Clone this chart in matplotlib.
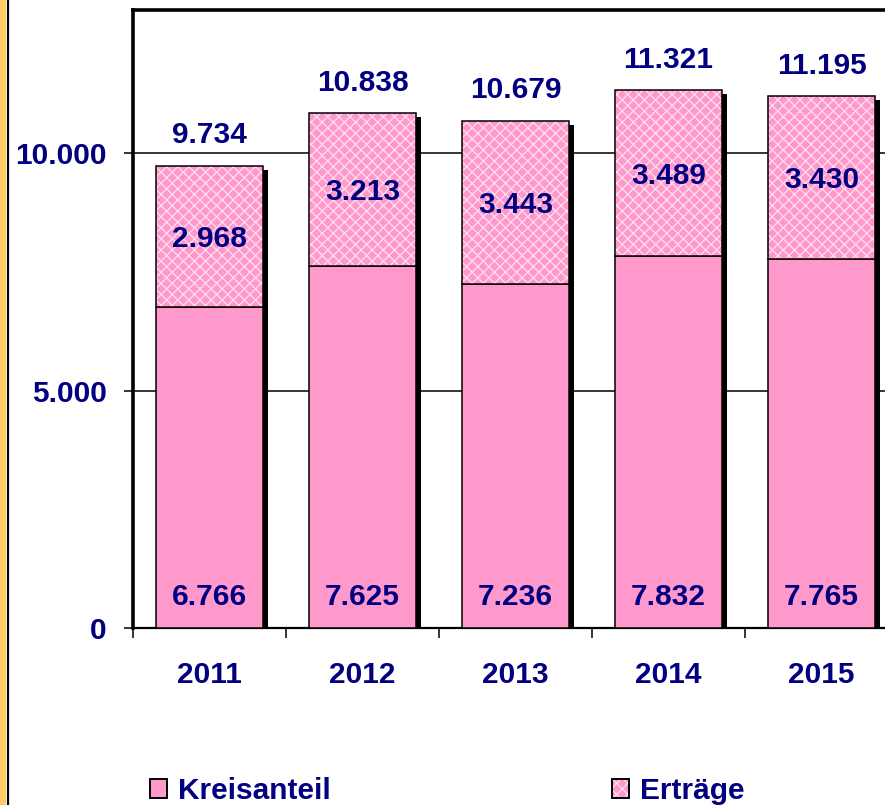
import matplotlib
matplotlib.use("Agg")
import matplotlib.pyplot as plt
import matplotlib.patheffects as pe
from matplotlib.patches import Rectangle, Patch
from matplotlib.lines import Line2D
from matplotlib.legend_handler import HandlerTuple
import numpy as np

years = ["2011", "2012", "2013", "2014", "2015"]
kreisanteil = [6766, 7625, 7236, 7832, 7765]
ertraege = [2968, 3213, 3443, 3489, 3430]
yticks = [0, 5000, 10000]
series_names = ["Kreisanteil", "Erträge"]

NAVY = "#000080"
PINK = "#FF99CC"
HATCH_C = "#FFE0F0"
FS = 21.5

def fmt(v):
    return f"{v:,}".replace(",", ".")

plt.rcParams["font.family"] = ["Liberation Sans", "DejaVu Sans"]
plt.rcParams["font.weight"] = "bold"
plt.rcParams["hatch.linewidth"] = 0.9

W, H = 885, 805
fig = plt.figure(figsize=(W / 100, H / 100), dpi=100)
fig.patch.set_facecolor("white")

# left orange strip
fig.add_artist(Rectangle((0, 0), 6 / W, 1, transform=fig.transFigure, facecolor="#FFCC66", edgecolor="none"))
fig.add_artist(Line2D([7.5 / W, 7.5 / W], [0, 1], transform=fig.transFigure, color="black", lw=1.6))

ax = fig.add_axes([133 / W, (H - 628) / H, 765 / W, 617.5 / H])
ax.set_xlim(-0.5, 4.5)
ax.set_ylim(0, 13000)

x = np.arange(len(years))
kre = np.array(kreisanteil)
ert = np.array(ertraege)
tot = kre + ert
bw = 0.70

# grid
for yv in yticks[1:]:
    ax.axhline(yv, color="black", lw=1.1, zorder=1)

# shadows for the whole stack
sh = ax.bar(x, tot, bw, color="black", zorder=2)
for p in sh:
    p.set_path_effects([pe.SimplePatchShadow(offset=(3.6, -3.0), shadow_rgbFace="black", alpha=1.0)])

ax.bar(x, kre, bw, color=PINK, edgecolor="black", lw=1.1, zorder=3)
ax.bar(x, ert, bw, bottom=kre, color=PINK, edgecolor=HATCH_C, lw=0, hatch="xxx", zorder=3)
ax.bar(x, ert, bw, bottom=kre, fill=False, edgecolor="black", lw=1.1, zorder=4)

for i in range(len(years)):
    ax.annotate(fmt(kre[i]), (x[i], 0), xytext=(0, 16.5), textcoords="offset points",
                ha="center", va="baseline", color=NAVY, fontsize=FS, fontweight="bold", zorder=6)
    ax.annotate(fmt(ert[i]), (x[i], kre[i] + ert[i] / 2), xytext=(0, -7.7), textcoords="offset points",
                ha="center", va="baseline", color=NAVY, fontsize=FS, fontweight="bold", zorder=6)
    ax.annotate(fmt(tot[i]), (x[i], tot[i]), xytext=(0, 16.3), textcoords="offset points",
                ha="center", va="baseline", color=NAVY, fontsize=FS, fontweight="bold", zorder=6)

# axes styling
ax.spines["right"].set_visible(False)
ax.spines["left"].set_linewidth(2.6)
ax.spines["top"].set_linewidth(2.6)
ax.spines["bottom"].set_linewidth(1.6)

ax.set_yticks(yticks)
ax.set_yticklabels([fmt(v) for v in yticks])
ax.tick_params(axis="y", direction="out", length=6.8, width=1.1, pad=12,
               labelsize=FS, labelcolor=NAVY)
ax.set_xticks(x)
ax.set_xticklabels(years)
ax.tick_params(axis="x", which="major", length=0, pad=24, labelsize=FS, labelcolor=NAVY)
ax.set_xticks(np.arange(-0.5, 5.0, 1.0), minor=True)
ax.tick_params(axis="x", which="minor", direction="out", length=7.2, width=1.1)
for lab in ax.get_xticklabels() + ax.get_yticklabels():
    lab.set_fontweight("bold")

# legends
h1 = Patch(facecolor=PINK, edgecolor="black", lw=1.4)
h2a = Patch(facecolor=PINK, edgecolor=HATCH_C, lw=0, hatch="xxx")
h2b = Patch(fill=False, edgecolor="black", lw=1.4)
leg_kw = dict(frameon=False, handlelength=0.58, handleheight=0.58, handletextpad=0.35,
              borderpad=0, borderaxespad=0, loc="lower left",
              bbox_transform=fig.transFigure,
              handler_map={tuple: HandlerTuple(ndivide=1, pad=0)},
              prop={"size": FS, "weight": "bold"})
l1 = ax.legend([h1], [series_names[0]], bbox_to_anchor=(150 / W, 0.0), **leg_kw)
for t in l1.get_texts():
    t.set_color(NAVY)
ax.add_artist(l1)
l2 = ax.legend([(h2a, h2b)], [series_names[1]], bbox_to_anchor=(612 / W, 0.0), **leg_kw)
for t in l2.get_texts():
    t.set_color(NAVY)

fig.savefig("out.png", dpi=100, facecolor="white")
